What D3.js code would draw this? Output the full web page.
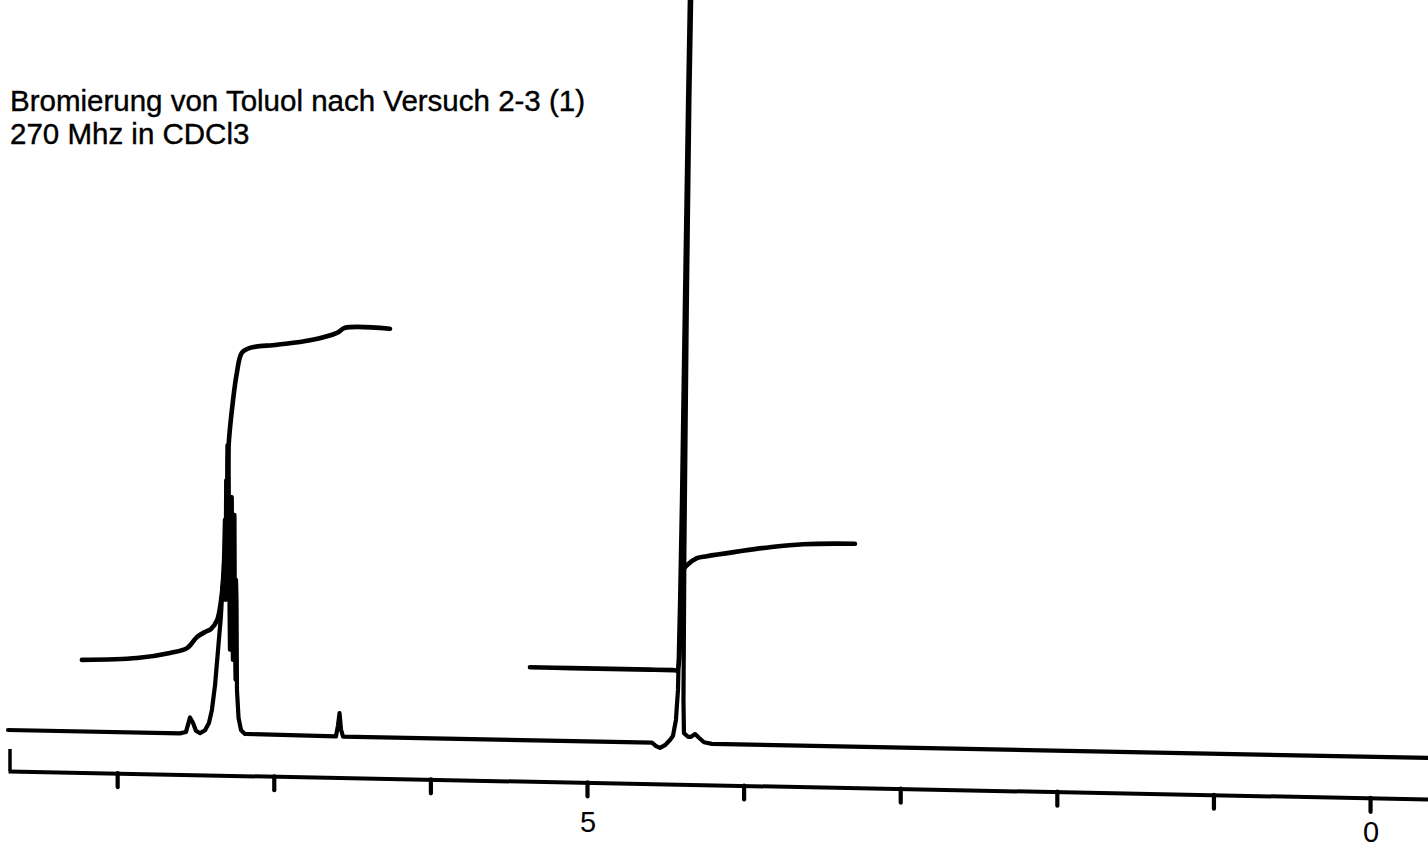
<!DOCTYPE html>
<html>
<head>
<meta charset="utf-8">
<script src="https://cdn.jsdelivr.net/npm/d3@7"></script>
<style>
html, body { margin: 0; padding: 0; background: #fff; overflow: hidden; }
svg { display: block; }
</style>
</head>
<body>
<svg id="chart" width="1428" height="848"></svg>
<script>
// ---------- DATA ----------
const titleLines = ["Bromierung von Toluol nach Versuch 2-3 (1)", "270 Mhz in CDCl3"];

const tickPpm = [8, 7, 6, 5, 4, 3, 2, 1, 0];
const tickLabelPpm = [5, 0];
const tickLabelText = ["5", "0"];

// spectrum trace: [chemical shift (ppm), intensity (a.u.)]
const spectrum = [
  [8.697, 0], [7.599, 0], [7.561, 0.2], [7.535, 2.2], [7.516, 1.5], [7.497, 0.4],
  [7.471, 0.1], [7.439, 0.5], [7.414, 1.5], [7.395, 3.3], [7.375, 6.7], [7.356, 11.5],
  [7.337, 16.3], [7.318, 23.9], [7.312, 29.4], [7.308, 18.4], [7.304, 34.8], [7.300, 21.1],
  [7.296, 39.6], [7.289, 39.6], [7.284, 21.1], [7.280, 11.6], [7.276, 26.6], [7.272, 32.5],
  [7.268, 32.5], [7.264, 15.7], [7.261, 10.2], [7.258, 23.9], [7.254, 30.1], [7.251, 30.1],
  [7.248, 12.9], [7.244, 7.5], [7.241, 21.2], [7.238, 18.4], [7.235, 6.1], [7.225, 2.3],
  [7.209, 0.6], [7.184, 0.1],
  [6.603, 0], [6.590, 1.5], [6.580, 3.2], [6.571, 1.0], [6.558, 0],
  [4.585, 0], [4.559, -0.45], [4.534, -0.7], [4.502, -0.3], [4.470, 0.4], [4.451, 1.0],
  [4.432, 3.2], [4.419, 7.3], [4.406, 19.6], [4.394, 33.3], [4.375, 60.7], [4.355, 88.1],
  [4.342, 104], [4.333, 104], [4.346, 88.1], [4.362, 60.7], [4.378, 26.5], [4.384, 5.9],
  [4.381, 1.4], [4.355, 0.9], [4.336, 0.9], [4.310, 1.3], [4.285, 0.8], [4.253, 0.2],
  [4.202, 0], [-0.370, 0]
];

// integral traces: [ppm, integral level (a.u.)]
const integralAromatic = [
  [8.225, 9.8], [7.874, 10.2], [7.663, 11.0], [7.554, 11.7], [7.490, 13.25], [7.439, 13.96],
  [7.401, 14.4], [7.362, 15.6], [7.324, 20.7], [7.300, 27.6], [7.289, 39.4], [7.260, 45.8],
  [7.236, 49.5], [7.204, 52.3], [7.152, 53.0], [6.979, 53.5], [6.769, 54.2], [6.596, 55.3],
  [6.545, 56.0], [6.258, 56.0]
];
const integralCH2 = [
  [5.364, 10.0], [5.10, 10.0], [4.85, 10.0], [4.60, 10.0], [4.45, 10.0], [4.425, 10.0],
  [4.406, 14.1], [4.397, 19.6], [4.387, 23.7], [4.362, 24.4],
  [4.298, 25.4], [4.234, 25.7], [4.042, 26.4], [3.832, 27.1], [3.621, 27.6], [3.289, 27.8]
];

// ---------- DRAWING ----------
const W = 1428, H = 848;
const svg = d3.select("#chart");
svg.append("rect").attr("width", W).attr("height", H).attr("fill", "#fff");

const baseY = 730;     // zero intensity line
const axisY = 771;     // ppm axis line
const k = 0.0197;      // slant of the scanned paper

const x = d3.scaleLinear().domain([8.697, -0.370]).range([8, 1428]);
const y = d3.scaleLinear().domain([0, 100]).range([baseY, 0]);

const plot = svg.append("g")
  .attr("transform", `matrix(1,${k},0,1,0,${-k * x.range()[0]})`);

const line = d3.line().x(d => x(d[0])).y(d => y(d[1]));
const smoothLine = d3.line().x(d => x(d[0])).y(d => y(d[1])).curve(d3.curveCatmullRom.alpha(0.5));

// spectrum
plot.append("path")
  .datum(spectrum)
  .attr("d", line)
  .attr("fill", "none")
  .attr("stroke", "#000")
  .attr("stroke-width", 4.2)
  .attr("stroke-linejoin", "round")
  .attr("stroke-linecap", "round");

// integrals
[integralAromatic, integralCH2].forEach(d => {
  plot.append("path")
    .datum(d)
    .attr("d", smoothLine)
    .attr("fill", "none")
    .attr("stroke", "#000")
    .attr("stroke-width", 4.6)
    .attr("stroke-linejoin", "round")
    .attr("stroke-linecap", "round");
});

// axis
const axis = d3.axisBottom(x)
  .tickValues(tickPpm)
  .tickSize(14)
  .tickSizeOuter(0)
  .tickFormat("");
const axG = plot.append("g").attr("transform", `translate(0,${axisY})`).call(axis);
axG.select(".domain").attr("stroke", "#000").attr("stroke-width", 4);
axG.selectAll(".tick line").attr("stroke", "#000").attr("stroke-width", 4.2).attr("stroke-linecap", "round");

// left start mark of the axis
plot.append("line")
  .attr("x1", x.range()[0] + 2).attr("x2", x.range()[0] + 2)
  .attr("y1", axisY - 22).attr("y2", axisY)
  .attr("stroke", "#000").attr("stroke-width", 3.5);

// tick labels (upright text placed along slanted axis)
tickLabelPpm.forEach((p, i) => {
  const px = x(p);
  svg.append("text")
    .attr("x", px + 1)
    .attr("y", axisY + 53 + 0.013 * (px - x.range()[0]))
    .attr("text-anchor", "middle")
    .attr("font-family", "'Liberation Sans', Arial, sans-serif")
    .attr("font-size", 29)
    .attr("fill", "#000")
    .text(tickLabelText[i]);
});

// title
titleLines.forEach((t, i) => {
  svg.append("text")
    .attr("x", 10)
    .attr("y", 111 + i * 32.5)
    .attr("font-family", "'Liberation Sans', Arial, sans-serif")
    .attr("font-size", 29.5)
    .attr("fill", "#000")
    .attr("stroke", "#000")
    .attr("stroke-width", 0.4)
    .text(t);
});
</script>
</body>
</html>
